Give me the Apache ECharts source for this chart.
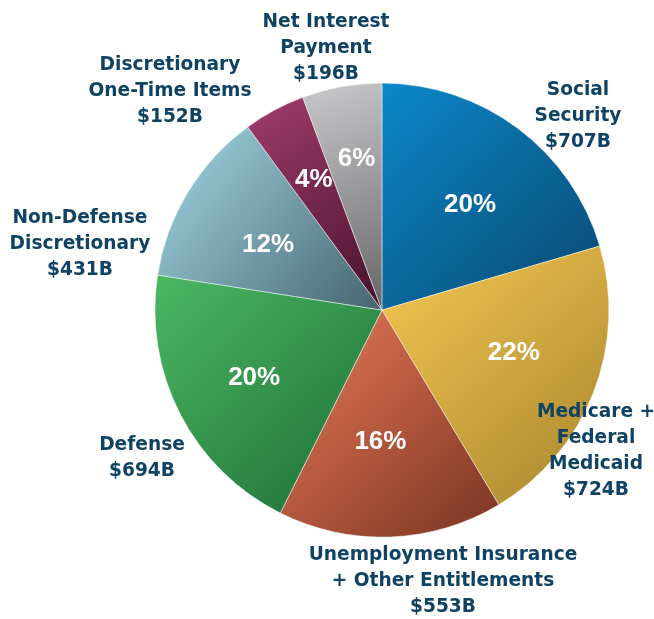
<!DOCTYPE html>
<html>
<head>
<meta charset="utf-8">
<script src="https://cdn.jsdelivr.net/npm/echarts@6/dist/echarts.min.js"></script>
<style>
  html, body { margin: 0; padding: 0; background: #fff; }
  #main { width: 654px; height: 619px; }
</style>
</head>
<body>
<div id="main"></div>
<script>
// spending categories, clockwise from 12 o'clock
var names = ['Social\nSecurity', 'Medicare +\nFederal\nMedicaid', 'Unemployment Insurance\n+ Other Entitlements',
  'Defense', 'Non-Defense\nDiscretionary', 'Discretionary\nOne-Time Items', 'Net Interest\nPayment'];
var amounts = [707, 724, 553, 694, 431, 152, 196];
var shares = ['20%', '22%', '16%', '20%', '12%', '4%', '6%'];
var lightColors = ['#0b88c9', '#f5c852', '#ea7a5a', '#4bb862', '#a4d9e7', '#a23c6c', '#cacacc'];
var darkColors = ['#0a4870', '#a8852e', '#7a3421', '#1c6c36', '#46646e', '#45122d', '#666668'];

var center = ['58.4%', '50.1%'];
var R = 227;

function grad(i) {
  return new echarts.graphic.LinearGradient(0, 0, 1, 1, [
    { offset: 0, color: lightColors[i] },
    { offset: 1, color: darkColors[i] }
  ]);
}

// where the outer text blocks sit
var labelSpots = [[578, 116], [596, 451], [443, 581], [142, 458], [80, 244], [170, 91], [326, 48]];
// small nudges for the percent labels
var pctNudge = [[2, 10], [-2, -10], [-7, -12], [0, 2], [9, 9], [0, -4], [0, -10]];

var myChart = echarts.init(document.getElementById('main'));
var option = {
  animation: false,
  series: [
    {
      type: 'pie',
      center: center,
      radius: [0, R],
      startAngle: 90,
      clockwise: true,
      silent: true,
      data: amounts.map(function (v, i) {
        return { name: names[i], value: v, itemStyle: { color: grad(i) } };
      }),
      itemStyle: { borderColor: 'rgba(255,255,255,0.6)', borderWidth: 0.8 },
      label: {
        show: true,
        position: 'outside',
        formatter: function (p) { return p.name + '\n$' + p.value + 'B'; },
        color: '#0f4263',
        fontFamily: 'DejaVu Sans, Arial, sans-serif',
        fontWeight: 'bold',
        fontSize: 18.6,
        lineHeight: 26,
        align: 'center',
        width: 400,
        overflow: 'none'
      },
      labelLine: { show: false },
      labelLayout: function (p) {
        var s = labelSpots[p.dataIndex];
        return { x: s[0], y: s[1], align: 'center', verticalAlign: 'middle' };
      }
    },
    {
      type: 'pie',
      center: center,
      radius: [0, R * 1.24],
      startAngle: 90,
      clockwise: true,
      silent: true,
      itemStyle: { color: 'rgba(0,0,0,0)' },
      data: amounts.map(function (v, i) {
        return { name: shares[i], value: v };
      }),
      label: {
        show: true,
        position: 'inside',
        formatter: '{b}',
        color: '#ffffff',
        fontFamily: 'Liberation Sans, Arial, sans-serif',
        fontWeight: 'bold',
        fontSize: 26
      },
      labelLine: { show: false },
      labelLayout: function (p) {
        var n = pctNudge[p.dataIndex];
        return { dx: n[0], dy: n[1] };
      }
    }
  ]
};
myChart.setOption(option);
window.addEventListener('resize', function () {
  myChart.resize();
});
</script>
</body>
</html>
